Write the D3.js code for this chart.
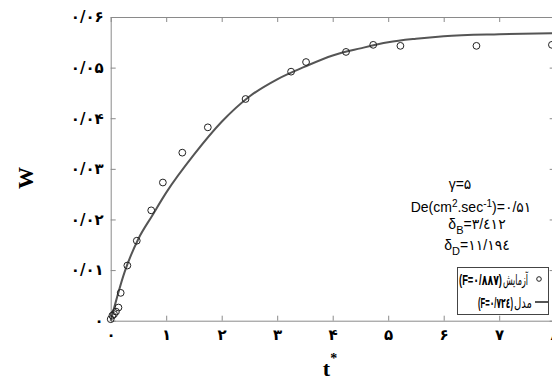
<!DOCTYPE html>
<html>
<head>
<meta charset="utf-8">
<script src="https://cdn.jsdelivr.net/npm/d3@7"></script>
<style>
  body { margin: 0; background: #fff; }
  svg { display: block; }
</style>
</head>
<body>
<svg id="chart" width="552" height="381"></svg>
<script>
// experiment points (t*, W)
var expT = [0, 0.03, 0.06, 0.095, 0.14, 0.18, 0.30, 0.47, 0.73, 0.94, 1.29, 1.75, 2.43, 3.25, 3.52, 4.24, 4.73, 5.22, 6.59, 7.95];
var expW = [0.0003, 0.0010, 0.0013, 0.0018, 0.0026, 0.0055, 0.0109, 0.0158, 0.0218, 0.0273, 0.0332, 0.0382, 0.0438, 0.0492, 0.0511, 0.0531, 0.0545, 0.0543, 0.0543, 0.0545];

// model curve
var modT = [0, 0.25, 0.5, 0.75, 1, 1.5, 2, 2.5, 3, 3.5, 4, 4.5, 5, 5.5, 6, 7, 8];
var modW = [0, 0.0096, 0.0162, 0.0208, 0.0253, 0.0328, 0.0393, 0.0443, 0.0477, 0.0502, 0.0524, 0.0538, 0.0550, 0.0557, 0.0562, 0.0566, 0.0568];

var xTicks = [0, 1, 2, 3, 4, 5, 6, 7, 8];
var yTicks = [0, 0.01, 0.02, 0.03, 0.04, 0.05, 0.06];

var fa = "۰۱۲۳۴۵۶۷۸۹";
function persian(s) { return String(s).replace(/[0-9]/g, function(c) { return fa[+c]; }).replace(".", "/"); }

var svg = d3.select("#chart");
var mLeft = 110.7, mTop = 17, mBottom = 320.7, mRight = mLeft + 8 * 55.5;

var x = d3.scaleLinear().domain([0, 8]).range([mLeft, mRight]);
var y = d3.scaleLinear().domain([0, 0.06]).range([mBottom, mTop]);

var frameColor = "#8a8a8a";

// inward ticks on all four sides, labels only bottom and left
svg.append("g")
    .attr("transform", "translate(0," + mBottom + ")")
    .call(d3.axisBottom(x).tickValues(xTicks).tickSizeInner(-5).tickSizeOuter(0).tickPadding(9)
      .tickFormat(function(d) { return persian(d); }));
svg.append("g")
    .attr("transform", "translate(0," + mTop + ")")
    .call(d3.axisTop(x).tickValues(xTicks).tickSizeInner(-5).tickSizeOuter(0).tickFormat(""));
svg.append("g")
    .attr("transform", "translate(" + mLeft + ",0)")
    .call(d3.axisLeft(y).tickValues(yTicks).tickSizeInner(-5).tickSizeOuter(0).tickPadding(7)
      .tickFormat(function(d) { return d === 0 ? persian(0) : persian(d.toFixed(2)); }));
svg.append("g")
    .attr("transform", "translate(" + mRight + ",0)")
    .call(d3.axisRight(y).tickValues(yTicks).tickSizeInner(-5).tickSizeOuter(0).tickFormat(""));

svg.selectAll(".domain").attr("stroke", frameColor);
svg.selectAll(".tick line").attr("stroke", frameColor);
svg.selectAll(".tick text")
    .attr("font-family", "'DejaVu Sans', sans-serif")
    .attr("font-weight", "bold")
    .attr("font-size", 15)
    .attr("fill", "#000");

// model line
var line = d3.line()
    .x(function(d, i) { return x(modT[i]); })
    .y(function(d) { return y(d); })
    .curve(d3.curveMonotoneX);
svg.append("path")
    .datum(modW)
    .attr("d", line)
    .attr("fill", "none")
    .attr("stroke", "#555")
    .attr("stroke-width", 2);

// experiment circles
svg.append("g").selectAll("circle")
    .data(expW)
  .enter().append("circle")
    .attr("cx", function(d, i) { return x(expT[i]); })
    .attr("cy", function(d) { return y(d); })
    .attr("r", 3.4)
    .attr("fill", "none")
    .attr("stroke", "#222")
    .attr("stroke-width", 1);

// axis titles
svg.append("text")
    .attr("transform", "translate(33,178) rotate(-90)")
    .attr("text-anchor", "middle")
    .attr("font-family", "'Liberation Serif', serif")
    .attr("font-weight", "bold")
    .attr("font-size", 22)
    .text("W");
var tl = svg.append("text")
    .attr("x", 330).attr("y", 376)
    .attr("text-anchor", "middle")
    .attr("font-family", "'Liberation Serif', serif")
    .attr("font-weight", "bold")
    .attr("font-size", 22)
    .text("t");
tl.append("tspan").attr("font-size", 14).attr("dy", -13).text("*");

// annotation
var ann = svg.append("g")
    .attr("font-family", "'Liberation Sans', 'DejaVu Sans', sans-serif")
    .attr("font-size", 14)
    .attr("text-anchor", "middle");
ann.append("text").attr("x", 460).attr("y", 189).text("γ=۵");
var de = ann.append("text").attr("x", 471).attr("y", 212);
de.append("tspan").text("De(cm");
de.append("tspan").attr("font-size", 10).attr("dy", -5).text("2");
de.append("tspan").attr("dy", 5).text(".sec");
de.append("tspan").attr("font-size", 10).attr("dy", -5).text("-1");
de.append("tspan").attr("dy", 5).text(")=۰/۵۱");
var db = ann.append("text").attr("x", 477).attr("y", 229);
db.append("tspan").text("δ");
db.append("tspan").attr("font-size", 11).attr("dy", 5).text("B");
db.append("tspan").attr("dy", -5).text("=۳/٤۱۲");
var dd = ann.append("text").attr("x", 477).attr("y", 250);
dd.append("tspan").text("δ");
dd.append("tspan").attr("font-size", 11).attr("dy", 5).text("D");
dd.append("tspan").attr("dy", -5).text("=۱۱/۱۹٤");

// legend
var lg = svg.append("g")
    .attr("font-family", "'Liberation Sans', 'DejaVu Sans', sans-serif")
    .attr("font-size", 14.5);
lg.append("rect")
    .attr("x", 457.5).attr("y", 267.5).attr("width", 91).attr("height", 47)
    .attr("fill", "#fff").attr("stroke", "#444");
lg.append("circle").attr("cx", 539).attr("cy", 279).attr("r", 2.3)
    .attr("fill", "none").attr("stroke", "#222");
lg.append("text").attr("x", 503).attr("y", 285)
    .attr("textLength", 25).attr("lengthAdjust", "spacingAndGlyphs").text("آزمایش");
lg.append("text").attr("x", 459).attr("y", 285).attr("font-weight", "bold")
    .attr("textLength", 43).attr("lengthAdjust", "spacingAndGlyphs").text("(F=۰/۸۸۷)");
lg.append("line").attr("x1", 535).attr("x2", 548).attr("y1", 302).attr("y2", 302)
    .attr("stroke", "#555").attr("stroke-width", 2);
lg.append("text").attr("x", 514).attr("y", 308)
    .attr("textLength", 18).attr("lengthAdjust", "spacingAndGlyphs").text("مدل");
lg.append("text").attr("x", 478).attr("y", 308).attr("font-weight", "bold")
    .attr("textLength", 35).attr("lengthAdjust", "spacingAndGlyphs").text("(F=۰/۷۲٤)");
</script>
</body>
</html>
